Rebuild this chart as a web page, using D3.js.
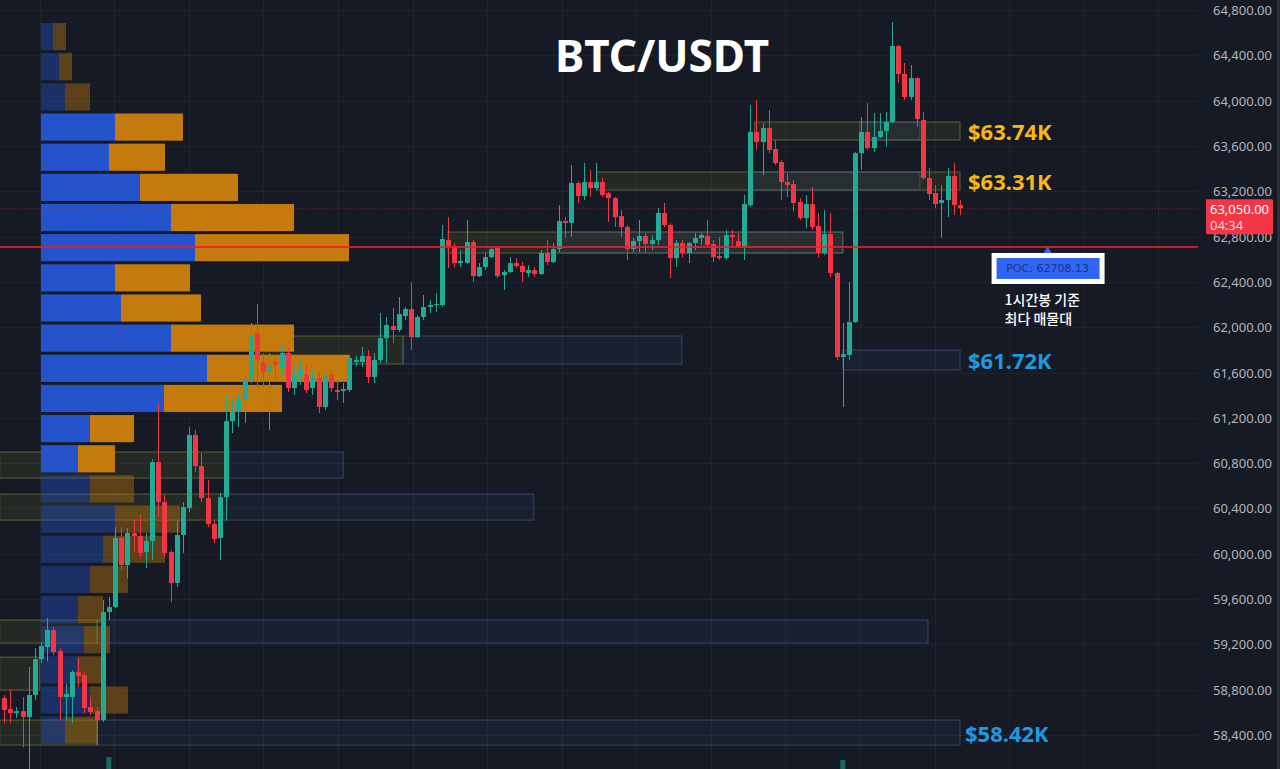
<!DOCTYPE html>
<html>
<head>
<meta charset="utf-8">
<script src="https://cdn.jsdelivr.net/npm/d3@7"></script>
<style>
  html, body { margin: 0; padding: 0; background: #161a25; overflow: hidden; }
</style>
</head>
<body>
<div id="chart"></div>
<script>
// 1h candles, [open, high, low, close]
const candles = [
  [58726,58753,58505,58620],[58629,58797,58505,58594],[58594,58647,58550,58611],[58611,58735,58293,58558],
  [58558,59000,58080,58753],[58753,59167,58708,59070],[59070,59220,59035,59185],[59176,59432,59050,59326],
  [59326,59353,59105,59132],[59141,59167,58532,58735],[58735,58859,58532,58762],[58735,58973,58505,58956],
  [58956,59079,58823,58920],[58929,58956,58594,58638],[58647,58735,58576,58603],[58611,58647,58311,58532],
  [58532,59591,58514,59485],[59485,59618,59415,59529],[59529,60236,59520,60139],[60139,60236,59856,59900],
  [59900,60227,59785,60183],[60183,60297,60015,60156],[60156,60342,59971,60006],[60015,60183,59874,60112],
  [60112,60836,59944,60809],[60809,61330,60324,60456],[60456,60518,59971,60006],[60015,60033,59573,59741],
  [59741,60297,59706,60165],[60165,60456,60006,60412],[60403,61118,60368,61048],[61048,61092,60721,60774],
  [60774,60889,60456,60492],[60492,60651,60236,60262],[60262,60297,60094,60130],[60139,60536,59944,60500],
  [60500,61401,60297,61171],[61171,61357,61065,61251],[61251,61419,61118,61357],[61357,61595,61154,61533],
  [61533,62037,61507,61931],[61948,62204,61472,61710],[61692,61772,61472,61604],[61604,61772,61092,61666],
  [61692,61754,61533,61666],[61648,61842,61578,61772],[61772,61816,61428,61463],[61463,61666,61401,61578],
  [61578,61710,61490,61622],[61578,61666,61419,61445],[61463,61622,61401,61551],[61551,61604,61242,61295],
  [61295,61622,61269,61578],[61578,61622,61428,61463],[61445,61516,61357,61428],[61437,61507,61330,61454],
  [61445,61754,61428,61728],[61692,61745,61657,61710],[61692,61825,61648,61745],[61745,61798,61507,61560],
  [61560,61772,61507,61710],[61710,62125,61684,61904],[61904,62090,61684,62019],[62010,62169,61860,61975],
  [61975,62266,61957,62116],[62098,62178,62063,62160],[62160,62399,61798,61913],[61913,62107,61904,62090],
  [62090,62284,62063,62178],[62178,62240,62125,62196],[62196,62301,62134,62204],[62196,62902,62178,62778],
  [62769,62972,62522,62716],[62716,62743,62531,62566],[62566,62681,62531,62584],[62566,62946,62560,62752],
  [62752,62769,62399,62451],[62451,62566,62442,62531],[62531,62654,62505,62619],[62619,62707,62610,62690],
  [62699,62707,62434,62451],[62460,62505,62328,62487],[62487,62619,62478,62566],[62566,62610,62522,62540],
  [62540,62575,62399,62487],[62478,62548,62442,62504],[62504,62531,62442,62469],[62469,62681,62460,62655],
  [62655,62769,62548,62575],[62575,62743,62566,62690],[62690,63078,62663,62937],[62937,62972,62787,62919],
  [62919,63431,62796,63273],[63273,63290,63096,63158],[63158,63449,63122,63281],[63281,63387,63149,63228],
  [63228,63449,63210,63281],[63281,63317,63149,63167],[63184,63193,62928,63140],[63140,63149,62884,62972],
  [62981,63034,62796,62884],[62884,62902,62593,62690],[62690,62787,62663,62760],[62760,62946,62663,62805],
  [62805,62831,62663,62734],[62734,62813,62681,62769],[62769,63052,62725,63008],[63008,63096,62884,62902],
  [62902,62919,62434,62610],[62610,62769,62531,62743],[62743,62769,62619,62655],[62655,62752,62566,62743],
  [62743,62831,62681,62787],[62787,62831,62725,62813],[62805,62946,62707,62725],[62734,62769,62575,62619],
  [62628,62796,62593,62610],[62610,62858,62593,62813],[62813,62858,62707,62796],[62760,62831,62699,62716],
  [62716,63167,62593,63087],[63078,63961,63061,63723],[63723,64005,63564,63634],[63634,63802,63343,63758],
  [63758,63917,63537,63564],[63573,63652,63431,63449],[63458,63476,63122,63281],[63281,63361,63149,63255],
  [63264,63299,63017,63096],[63105,63140,62946,62963],[62963,63167,62875,63087],[63087,63237,62858,62884],
  [62893,63008,62619,62655],[62655,63034,62637,62822],[62822,63008,62442,62478],[62478,62487,61710,61736],
  [61736,62037,61295,61763],[61754,62399,61710,62045],[62045,63546,62037,63537],[63537,63855,63387,63723],
  [63723,63979,63564,63582],[63582,63890,63546,63679],[63679,63890,63670,63732],[63732,63899,63590,63811],
  [63811,64694,63802,64482],[64482,64491,64155,64235],[64235,64332,64005,64032],[64032,64314,64005,64199],
  [64199,64208,63767,63837],[63829,63899,63299,63317],[63317,63405,63122,63175],[63184,63255,63052,63087],
  [63096,63255,62787,63122],[63122,63405,62972,63334],[63334,63449,62990,63078],[63078,63122,62990,63050]
];

// volume bars that reach into view at the bottom: [candle index, volume]
const volumeSpikes = [[17, 2150], [136, 2000]];

const priceTicks = d3.range(58400, 64801, 400);

// volume profile rows, top row first (buy = blue, sell = orange)
const profileBuy  = [12,18,24,74,68,99,130,154,74,80,130,166,123,49,37,49,74,62,49,37,43,36,49,24];
const profileSell = [13,13,25,68,56,98,123,154,75,80,123,142,118,44,37,44,65,62,38,25,26,26,38,32];
const profileTop = 64685, profileStep = 266.2;
const valueAreaRows = [3, 14];

// supply / demand zones: [fromIndex, toIndex, low, high, kind]
const zones = [
  [121.7, 155, 63652, 63811, "gold"], [138.7, 148.5, 63652, 63811, "blue"],
  [96.1, 155, 63211, 63370, "gold"],  [121.4, 148.5, 63211, 63370, "blue"],
  [72, 136, 62655, 62840, "gold"],    [90, 136, 62655, 62840, "blue"],
  [39.9, 64.7, 61675, 61922, "gold"], [64.7, 109.9, 61675, 61922, "blue"],
  [136, 155, 61622, 61798, "blue"],
  [-0.7, 36.3, 60668, 60898, "gold"], [36.3, 55, 60668, 60898, "blue"],
  [-0.7, 36.1, 60297, 60527, "gold"], [36.1, 85.9, 60297, 60527, "blue"],
  [-0.7, 15.1, 59212, 59415, "gold"], [15.1, 149.8, 59212, 59415, "blue"],
  [-0.7, 5.8, 58797, 59088, "gold"],
  [-0.7, 15.1, 58311, 58532, "gold"], [15.1, 155, 58311, 58532, "blue"]
];

const levelLabels = [
  { text: "$63.74K", price: 63731, color: "#f5b818", dx: 8 },
  { text: "$63.31K", price: 63290, color: "#f5b818", dx: 8 },
  { text: "$61.72K", price: 61710, color: "#1f9ae0", dx: 8 },
  { text: "$58.42K", price: 58421, color: "#1f9ae0", dx: 5 }
];

const pocPrice = 62708.13;
const lastPrice = 63050;
const countdown = "04:34";

const W = 1280, H = 769;
const paneRight = 1198;

const svg = d3.select("#chart").append("svg")
  .attr("width", W).attr("height", H)
  .style("display", "block")
  .style("background", "#161a25");

const x = d3.scaleLinear().domain([0, candles.length - 1]).range([4, 960]);
const y = d3.scaleLinear().domain([58400, 64800]).range([735, 10]);
const xVol = d3.scaleLinear().domain([0, d3.max(profileBuy, (b, i) => b + profileSell[i])]).range([41, 349]);
const yVolume = d3.scaleLinear().domain([0, 5000]).range([800, 700]);

// grid
const grid = svg.append("g").attr("stroke", "#1f2330").attr("stroke-width", 1);
grid.selectAll("line.h").data(priceTicks).enter().append("line")
  .attr("x1", 0).attr("x2", paneRight)
  .attr("y1", d => Math.round(y(d)) + 0.5).attr("y2", d => Math.round(y(d)) + 0.5);
grid.selectAll("line.v").data(d3.range(5.8, 195, 12.09)).enter().append("line")
  .attr("x1", d => Math.round(x(d)) + 0.5).attr("x2", d => Math.round(x(d)) + 0.5)
  .attr("y1", 0).attr("y2", H);

// zones
const zoneStyle = {
  gold: { fill: "rgba(130,125,50,0.15)", stroke: "rgba(150,145,70,0.55)" },
  blue: { fill: "rgba(50,75,125,0.14)", stroke: "rgba(85,110,155,0.5)" }
};
svg.append("g").selectAll("rect").data(zones).enter().append("rect")
  .attr("x", d => x(d[0])).attr("width", d => x(d[1]) - x(d[0]))
  .attr("y", d => y(d[3])).attr("height", d => y(d[2]) - y(d[3]))
  .attr("fill", d => zoneStyle[d[4]].fill)
  .attr("stroke", d => zoneStyle[d[4]].stroke)
  .attr("stroke-width", 1);

// volume profile
const rowH = y(profileTop - profileStep) - y(profileTop);
const prof = svg.append("g");
profileBuy.forEach((b, i) => {
  const top = y(profileTop - i * profileStep);
  const inVA = i >= valueAreaRows[0] && i <= valueAreaRows[1];
  const g = prof.append("g").attr("opacity", inVA ? 1 : 0.4);
  g.append("rect").attr("x", xVol(0)).attr("y", top)
    .attr("width", xVol(b) - xVol(0)).attr("height", rowH - 3).attr("fill", "#2453cb");
  g.append("rect").attr("x", xVol(b)).attr("y", top)
    .attr("width", xVol(b + profileSell[i]) - xVol(b)).attr("height", rowH - 3).attr("fill", "#c47a0c");
});

// volume spikes at the bottom
svg.append("g").selectAll("rect").data(volumeSpikes).enter().append("rect")
  .attr("x", d => x(d[0]) - 2.5).attr("width", 5)
  .attr("y", d => yVolume(d[1])).attr("height", d => yVolume(0) - yVolume(d[1]))
  .attr("fill", "#22ab94").attr("opacity", 0.55);

// candles
const up = "#22ab94", down = "#f23645";
const cg = svg.append("g").selectAll("g").data(candles).enter().append("g");
cg.append("line")
  .attr("x1", (d, i) => Math.round(x(i)) + 0.5).attr("x2", (d, i) => Math.round(x(i)) + 0.5)
  .attr("y1", d => y(d[1])).attr("y2", d => y(d[2]))
  .attr("stroke", d => d[3] >= d[0] ? up : down).attr("stroke-width", 1);
cg.append("rect")
  .attr("x", (d, i) => Math.round(x(i)) - 2).attr("width", 5)
  .attr("y", d => y(Math.max(d[0], d[3])))
  .attr("height", d => Math.max(1, Math.abs(y(d[0]) - y(d[3]))))
  .attr("fill", d => d[3] >= d[0] ? up : down);

// last price dotted line
svg.append("line")
  .attr("x1", 0).attr("x2", paneRight)
  .attr("y1", y(lastPrice)).attr("y2", y(lastPrice))
  .attr("stroke", "#f23645").attr("stroke-opacity", 0.45)
  .attr("stroke-dasharray", "1 2");

// POC line
svg.append("line")
  .attr("x1", 0).attr("x2", paneRight)
  .attr("y1", y(pocPrice)).attr("y2", y(pocPrice))
  .attr("stroke", "#ee1c24").attr("stroke-opacity", 0.85).attr("stroke-width", 2);

// POC callout
const pocX = x(169.2), pocY = y(pocPrice);
svg.append("path")
  .attr("d", `M${pocX - 4},${pocY + 6}L${pocX},${pocY - 1}L${pocX + 4},${pocY + 6}Z`)
  .attr("fill", "#2f66f5");
svg.append("rect").attr("x", pocX - 56).attr("y", pocY + 6).attr("width", 113).attr("height", 31).attr("fill", "#ffffff");
svg.append("rect").attr("x", pocX - 51).attr("y", pocY + 11).attr("width", 103).attr("height", 21).attr("fill", "#2f66f5");
svg.append("text").attr("x", pocX).attr("y", pocY + 22)
  .attr("text-anchor", "middle").attr("dominant-baseline", "middle")
  .attr("font-family", "'DejaVu Sans', sans-serif").attr("font-size", 11)
  .attr("fill", "#1d3478").text("POC: " + pocPrice.toFixed(2));

const note = svg.append("text").attr("x", pocX - 43)
  .attr("font-family", "'Noto Sans CJK KR', 'Noto Sans', sans-serif")
  .attr("font-size", 14).attr("font-weight", 500).attr("fill", "#ffffff");
note.append("tspan").attr("x", pocX - 43).attr("y", pocY + 58).text("1시간봉 기준");
note.append("tspan").attr("x", pocX - 43).attr("y", pocY + 77).text("최다 매물대");

// level labels
svg.append("g").selectAll("text").data(levelLabels).enter().append("text")
  .attr("x", d => x(candles.length - 1) + d.dx).attr("y", d => y(d.price))
  .attr("dominant-baseline", "central")
  .attr("font-family", "'Noto Sans', 'Open Sans', sans-serif")
  .attr("font-weight", 700).attr("font-size", 22)
  .attr("fill", d => d.color).text(d => d.text);

// title
svg.append("text").attr("x", 662).attr("y", 72)
  .attr("text-anchor", "middle")
  .attr("font-family", "'Noto Sans', 'Open Sans', sans-serif")
  .attr("font-weight", 700).attr("font-size", 44)
  .attr("fill", "#ffffff").text("BTC/USDT");

// price axis
const fmt = d3.format(",.2f");
svg.append("g").selectAll("text").data(priceTicks).enter().append("text")
  .attr("x", 1272).attr("y", d => y(d))
  .attr("text-anchor", "end").attr("dominant-baseline", "central")
  .attr("font-family", "'Noto Sans', sans-serif").attr("font-size", 13)
  .attr("fill", "#b2b5be").text(d => fmt(d));

// last price tag
const ty = y(lastPrice);
svg.append("rect").attr("x", 1206).attr("y", ty - 9).attr("width", 67).attr("height", 35)
  .attr("fill", "#f23645").attr("rx", 1);
svg.append("text").attr("x", 1210).attr("y", ty + 1)
  .attr("dominant-baseline", "central")
  .attr("font-family", "'Noto Sans', sans-serif").attr("font-size", 13)
  .attr("fill", "#ffffff").text(fmt(lastPrice));
svg.append("text").attr("x", 1210).attr("y", ty + 17)
  .attr("dominant-baseline", "central")
  .attr("font-family", "'Noto Sans', sans-serif").attr("font-size", 13)
  .attr("fill", "#ffd9dc").text(countdown);

svg.append("rect").attr("x", 1277).attr("y", 0).attr("width", 3).attr("height", H).attr("fill", "#2a2e39");
</script>
</body>
</html>
